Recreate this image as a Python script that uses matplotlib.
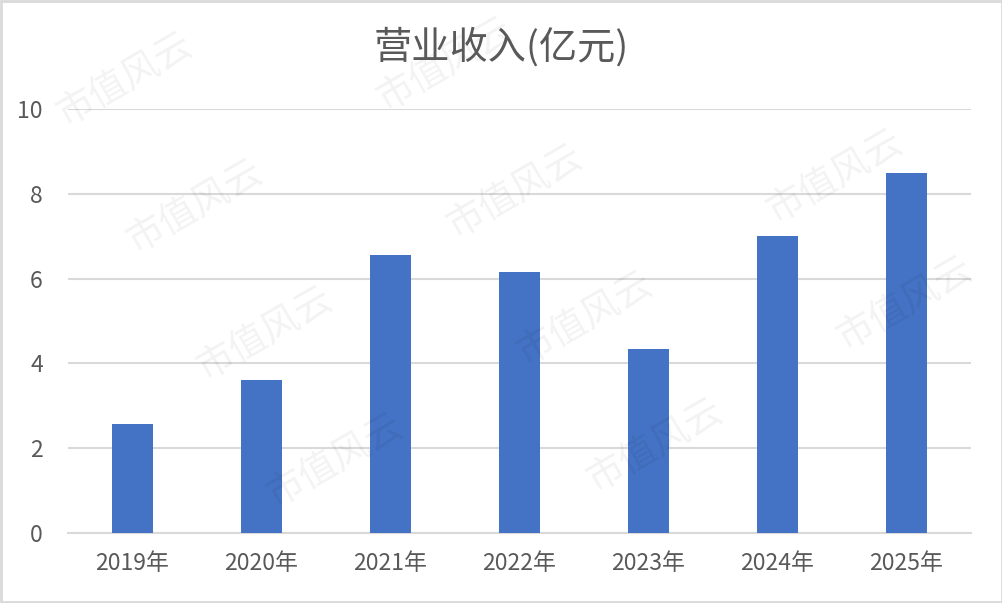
import matplotlib
matplotlib.use("Agg")
import matplotlib.pyplot as plt
from matplotlib.patches import Rectangle

plt.rcParams['font.family'] = ['Noto Sans CJK SC', 'DejaVu Sans']

categories = ["2019年", "2020年", "2021年", "2022年", "2023年", "2024年", "2025年"]
revenue = [2.57, 3.61, 6.56, 6.16, 4.34, 7.01, 8.49]
yticks = [0, 2, 4, 6, 8, 10]
title = "营业收入(亿元)"
watermark = "市值风云"

W, H = 1003, 603
fig = plt.figure(figsize=(W / 100, H / 100), dpi=100)
fig.patch.set_facecolor('white')

# watermarks (decorative lattice)
for i in range(-3, 6):
    for j in range(-2, 6):
        cx = 125 + i * 320 + j * 70
        cy = 80 - i * 15 + j * 127
        if 75 < cx < W - 75 and 60 < cy < H - 50:
            fig.text(cx / W, 1 - cy / H, watermark, fontsize=27, color='#000000',
                     alpha=0.05, rotation=30, ha='center', va='center', zorder=0,
                     fontweight='light')

ax = fig.add_axes([68 / W, 1 - 533 / H, (971 - 68) / W, (533 - 109) / H])
ax.set_facecolor('none')
x = list(range(len(categories)))
ax.bar(x, revenue, width=0.32, color='#4472C4', zorder=3)
ax.set_xlim(-0.5, len(categories) - 0.5)
ax.set_ylim(0, 10)
ax.set_yticks(yticks)
ax.set_yticklabels([str(v) for v in yticks])
ax.set_xticks(x)
ax.set_xticklabels(categories)
ax.yaxis.grid(True, color='#d9d9d9', linewidth=1.5, zorder=0)
ax.set_axisbelow(True)
for s in ['top', 'right', 'left']:
    ax.spines[s].set_visible(False)
ax.spines['bottom'].set_color('#d9d9d9')
ax.spines['bottom'].set_linewidth(1.5)
ax.tick_params(axis='both', length=0, labelsize=16.5, labelcolor='#595959')
ax.tick_params(axis='x', pad=14)
ax.tick_params(axis='y', pad=18)

fig.text(0.5, 1 - 48 / H, title, fontsize=27.5, color='#595959', ha='center', va='center')

fig.patches.append(Rectangle((1 / W, 1 / H), 1 - 2 / W, 1 - 2 / H, transform=fig.transFigure,
                             fill=False, edgecolor='#d9d9d9', linewidth=2))

fig.savefig('out.png', dpi=100, facecolor='white')
